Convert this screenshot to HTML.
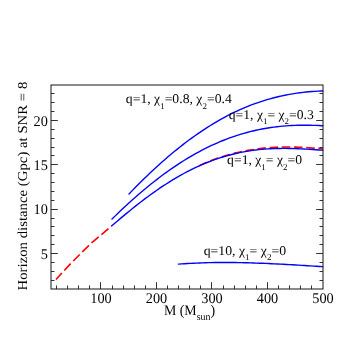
<!DOCTYPE html>
<html><head><meta charset="utf-8"><title>plot</title>
<style>
html,body{margin:0;padding:0;background:#fff;}
body{width:340px;height:340px;overflow:hidden;}
svg{display:block;}
text{font-family:"Liberation Serif",serif;fill:#000;text-rendering:geometricPrecision;}
</style></head><body>
<svg width="340" height="340" viewBox="0 0 340 340">
<rect x="0" y="0" width="340" height="340" fill="#fff"/>
<g fill="none" stroke="#ff0000" stroke-width="1.6" stroke-linecap="butt">
<path d="M56.00,279.50 L64.70,270.00 L73.50,260.70 L82.60,251.60 L91.90,242.60 L101.50,234.60 L111.80,225.70" stroke-dasharray="9.3 3.6" stroke-dashoffset="0.6"/>
<path d="M196.00,167.34 L198.00,166.35 L200.00,165.38 L202.00,164.44 L204.00,163.52 L206.00,162.65 L208.00,161.84 L210.00,161.04 L212.00,160.28 L214.00,159.53 L216.00,158.81 L218.00,158.12 L220.00,157.45 L222.00,156.80 L224.00,156.17 L226.00,155.57 L228.00,154.99 L230.00,154.43 L232.00,153.90 L234.00,153.39 L236.00,152.90 L238.00,152.43 L240.00,151.98 L242.00,151.55 L244.00,151.14 L246.00,150.76 L248.00,150.40 L250.00,150.05 L252.00,149.72 L254.00,149.40 L256.00,149.11 L258.00,148.83 L260.00,148.57 L262.00,148.34 L264.00,148.12 L266.00,147.92 L268.00,147.74 L270.00,147.58 L272.00,147.45 L274.00,147.34 L276.00,147.25 L278.00,147.17 L280.00,147.11 L282.00,147.06 L284.00,147.03 L286.00,147.01 L288.00,147.01 L290.00,147.01 L292.00,147.05 L294.00,147.10 L296.00,147.16 L298.00,147.23 L300.00,147.31 L302.00,147.40 L304.00,147.50 L306.00,147.61 L308.00,147.72 L310.00,147.84 L312.00,147.96 L314.00,148.09 L316.00,148.22 L318.00,148.36 L320.00,148.50 L322.00,148.64 L322.80,148.70" stroke-dasharray="8.5 3.7" stroke-dashoffset="8.7"/>
</g>
<g fill="none" stroke="#0000ff" stroke-width="1.38" stroke-linecap="round" stroke-linejoin="round">
<path d="M129.00,193.98 L132.00,190.88 L135.00,187.81 L138.00,184.79 L141.00,181.80 L144.00,178.85 L147.00,175.95 L150.00,173.09 L153.00,170.27 L156.00,167.50 L159.00,164.77 L162.00,162.08 L165.00,159.44 L168.00,156.85 L171.00,154.31 L174.00,151.81 L177.00,149.36 L180.00,146.96 L183.00,144.61 L186.00,142.31 L189.00,140.06 L192.00,137.86 L195.00,135.71 L198.00,133.61 L201.00,131.56 L204.00,129.57 L207.00,127.62 L210.00,125.73 L213.00,123.89 L216.00,122.10 L219.00,120.37 L222.00,118.68 L225.00,117.05 L228.00,115.47 L231.00,113.95 L234.00,112.47 L237.00,111.05 L240.00,109.68 L243.00,108.36 L246.00,107.10 L249.00,105.88 L252.00,104.72 L255.00,103.61 L258.00,102.54 L261.00,101.53 L264.00,100.57 L267.00,99.66 L270.00,98.79 L273.00,97.98 L276.00,97.21 L279.00,96.49 L282.00,95.82 L285.00,95.20 L288.00,94.62 L291.00,94.08 L294.00,93.59 L297.00,93.15 L300.00,92.74 L303.00,92.38 L306.00,92.06 L309.00,91.78 L312.00,91.55 L315.00,91.35 L318.00,91.18 L321.00,91.06 L322.80,91.00"/>
<path d="M112.00,219.05 L115.00,216.12 L118.00,213.22 L121.00,210.37 L124.00,207.55 L127.00,204.77 L130.00,202.04 L133.00,199.34 L136.00,196.69 L139.00,194.08 L142.00,191.51 L145.00,188.99 L148.00,186.51 L151.00,184.08 L154.00,181.69 L157.00,179.35 L160.00,177.06 L163.00,174.82 L166.00,172.62 L169.00,170.48 L172.00,168.38 L175.00,166.33 L178.00,164.34 L181.00,162.39 L184.00,160.49 L187.00,158.65 L190.00,156.85 L193.00,155.11 L196.00,153.42 L199.00,151.78 L202.00,150.19 L205.00,148.65 L208.00,147.16 L211.00,145.73 L214.00,144.34 L217.00,143.01 L220.00,141.73 L223.00,140.50 L226.00,139.33 L229.00,138.20 L232.00,137.12 L235.00,136.09 L238.00,135.12 L241.00,134.19 L244.00,133.31 L247.00,132.48 L250.00,131.70 L253.00,130.97 L256.00,130.28 L259.00,129.64 L262.00,129.05 L265.00,128.50 L268.00,128.00 L271.00,127.54 L274.00,127.13 L277.00,126.76 L280.00,126.43 L283.00,126.14 L286.00,125.89 L289.00,125.68 L292.00,125.51 L295.00,125.38 L298.00,125.28 L301.00,125.22 L304.00,125.20 L307.00,125.21 L310.00,125.25 L313.00,125.32 L316.00,125.42 L319.00,125.55 L322.00,125.71 L322.80,125.76"/>
<path d="M111.80,225.82 L114.80,223.23 L117.80,220.66 L120.80,218.12 L123.80,215.60 L126.80,213.11 L129.80,210.66 L132.80,208.23 L135.80,205.85 L138.80,203.50 L141.80,201.18 L144.80,198.91 L147.80,196.68 L150.80,194.49 L153.80,192.34 L156.80,190.24 L159.80,188.18 L162.80,186.17 L165.80,184.21 L168.80,182.30 L171.80,180.44 L174.80,178.63 L177.80,176.87 L180.80,175.17 L183.80,173.51 L186.80,171.91 L189.80,170.37 L192.80,168.87 L195.80,167.44 L198.80,166.05 L201.80,164.73 L204.80,163.45 L207.80,162.24 L210.80,161.07 L213.80,159.97 L216.80,158.91 L219.80,157.91 L222.80,156.97 L225.80,156.08 L228.80,155.24 L231.80,154.46 L234.80,153.73 L237.80,153.05 L240.80,152.42 L243.80,151.84 L246.80,151.32 L249.80,150.83 L252.80,150.40 L255.80,150.01 L258.80,149.67 L261.80,149.38 L264.80,149.12 L267.80,148.91 L270.80,148.73 L273.80,148.60 L276.80,148.50 L279.80,148.44 L282.80,148.41 L285.80,148.41 L288.80,148.44 L291.80,148.50 L294.80,148.59 L297.80,148.70 L300.80,148.83 L303.80,148.98 L306.80,149.15 L309.80,149.33 L312.80,149.53 L315.80,149.74 L318.80,149.95 L321.80,150.17 L322.80,150.25"/>
<path d="M178.50,264.15 L181.50,263.93 L184.50,263.73 L187.50,263.54 L190.50,263.37 L193.50,263.22 L196.50,263.08 L199.50,262.96 L202.50,262.85 L205.50,262.76 L208.50,262.68 L211.50,262.61 L214.50,262.56 L217.50,262.53 L220.50,262.50 L223.50,262.49 L226.50,262.49 L229.50,262.50 L232.50,262.53 L235.50,262.56 L238.50,262.61 L241.50,262.66 L244.50,262.73 L247.50,262.80 L250.50,262.88 L253.50,262.98 L256.50,263.08 L259.50,263.19 L262.50,263.30 L265.50,263.43 L268.50,263.56 L271.50,263.69 L274.50,263.84 L277.50,263.98 L280.50,264.14 L283.50,264.30 L286.50,264.46 L289.50,264.63 L292.50,264.80 L295.50,264.97 L298.50,265.15 L301.50,265.33 L304.50,265.52 L307.50,265.70 L310.50,265.89 L313.50,266.07 L316.50,266.26 L319.50,266.45 L322.50,266.64 L322.80,266.66"/>
</g>
<g fill="none" stroke="#000">
<rect x="51.0" y="85.0" width="272.00" height="204.00" stroke-width="1.05" stroke="#202020"/>
<path d="M56.5,289.0v-3.5M67.5,289.0v-3.5M78.5,289.0v-3.5M89.5,289.0v-3.5M100.5,289.0v-6.8M112.5,289.0v-3.5M123.5,289.0v-3.5M134.5,289.0v-3.5M145.5,289.0v-3.5M156.5,289.0v-6.8M167.5,289.0v-3.5M178.5,289.0v-3.5M189.5,289.0v-3.5M200.5,289.0v-3.5M211.5,289.0v-6.8M223.5,289.0v-3.5M234.5,289.0v-3.5M245.5,289.0v-3.5M256.5,289.0v-3.5M267.5,289.0v-6.8M278.5,289.0v-3.5M289.5,289.0v-3.5M300.5,289.0v-3.5M311.5,289.0v-3.5M51.0,280.5h3.5M323.0,280.5h-3.5M51.0,271.5h3.5M323.0,271.5h-3.5M51.0,262.5h3.5M323.0,262.5h-3.5M51.0,253.5h6.8M323.0,253.5h-6.8M51.0,244.5h3.5M323.0,244.5h-3.5M51.0,235.5h3.5M323.0,235.5h-3.5M51.0,226.5h3.5M323.0,226.5h-3.5M51.0,218.5h3.5M323.0,218.5h-3.5M51.0,209.5h6.8M323.0,209.5h-6.8M51.0,200.5h3.5M323.0,200.5h-3.5M51.0,191.5h3.5M323.0,191.5h-3.5M51.0,182.5h3.5M323.0,182.5h-3.5M51.0,173.5h3.5M323.0,173.5h-3.5M51.0,164.5h6.8M323.0,164.5h-6.8M51.0,155.5h3.5M323.0,155.5h-3.5M51.0,147.5h3.5M323.0,147.5h-3.5M51.0,138.5h3.5M323.0,138.5h-3.5M51.0,129.5h3.5M323.0,129.5h-3.5M51.0,120.5h6.8M323.0,120.5h-6.8M51.0,111.5h3.5M323.0,111.5h-3.5M51.0,102.5h3.5M323.0,102.5h-3.5M51.0,93.5h3.5M323.0,93.5h-3.5" stroke-width="0.95" stroke="#262626"/>
</g>
<g opacity="0.999"><text transform="translate(100.96,302.60) scale(1,1.03)" font-size="14.3" text-anchor="middle">100</text><text transform="translate(156.47,302.60) scale(1,1.03)" font-size="14.3" text-anchor="middle">200</text><text transform="translate(211.98,302.60) scale(1,1.03)" font-size="14.3" text-anchor="middle">300</text><text transform="translate(267.49,302.60) scale(1,1.03)" font-size="14.3" text-anchor="middle">400</text><text transform="translate(323.00,302.60) scale(1,1.03)" font-size="14.3" text-anchor="middle">500</text><text transform="translate(47.90,258.82) scale(1,1.03)" font-size="14.3" text-anchor="end">5</text><text transform="translate(47.90,214.47) scale(1,1.03)" font-size="14.3" text-anchor="end">10</text><text transform="translate(47.90,170.13) scale(1,1.03)" font-size="14.3" text-anchor="end">15</text><text transform="translate(47.90,125.78) scale(1,1.03)" font-size="14.3" text-anchor="end">20</text>
<text font-size="13.6" text-anchor="middle" textLength="208.8" lengthAdjust="spacingAndGlyphs" transform="translate(26.8,186.1) rotate(-90)">Horizon distance (Gpc) at SNR = 8</text>
<text transform="translate(163.90,315.00) scale(1,1.05)" font-size="14" text-anchor="start" textLength="51.3" lengthAdjust="spacingAndGlyphs">M (M<tspan dy="4.9" font-size="10">sun</tspan><tspan dy="-4.9">)</tspan></text>
<text transform="translate(125.80,103.40) scale(1,1.03)" font-size="13" text-anchor="start" textLength="106.0" lengthAdjust="spacingAndGlyphs">q=1, χ<tspan dy="5.5" font-size="8.5">1</tspan><tspan dy="-5.5">=0.8, χ</tspan><tspan dy="5.5" font-size="8.5">2</tspan><tspan dy="-5.5">=0.4</tspan></text><text transform="translate(228.80,118.60) scale(1,1.03)" font-size="13" text-anchor="start" textLength="85.0" lengthAdjust="spacingAndGlyphs">q=1, χ<tspan dy="5.5" font-size="8.5">1</tspan><tspan dy="-5.5">= χ</tspan><tspan dy="5.5" font-size="8.5">2</tspan><tspan dy="-5.5">=0.3</tspan></text><text transform="translate(227.10,164.20) scale(1,1.03)" font-size="13" text-anchor="start" textLength="74.9" lengthAdjust="spacingAndGlyphs">q=1, χ<tspan dy="5.5" font-size="8.5">1</tspan><tspan dy="-5.5">= χ</tspan><tspan dy="5.5" font-size="8.5">2</tspan><tspan dy="-5.5">=0</tspan></text><text transform="translate(203.70,254.80) scale(1,1.03)" font-size="13" text-anchor="start" textLength="82.4" lengthAdjust="spacingAndGlyphs">q=10, χ<tspan dy="5.5" font-size="8.5">1</tspan><tspan dy="-5.5">= χ</tspan><tspan dy="5.5" font-size="8.5">2</tspan><tspan dy="-5.5">=0</tspan></text></g>
</svg>
</body></html>
